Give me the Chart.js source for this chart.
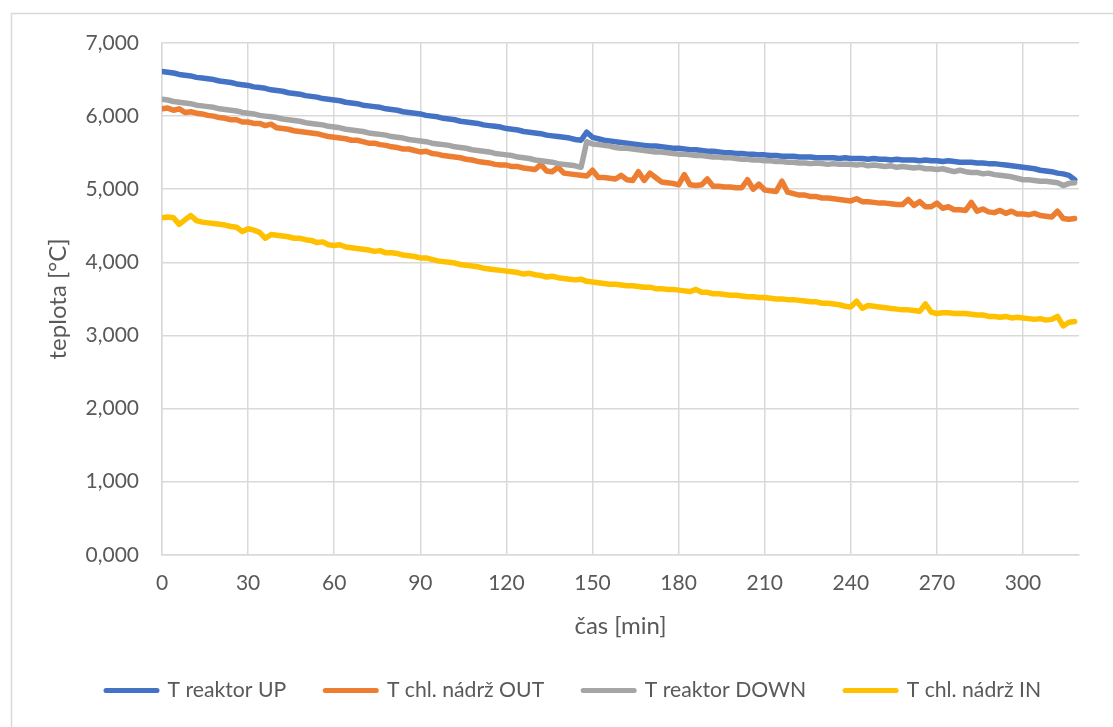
<!DOCTYPE html>
<html>
<head>
<meta charset="utf-8">
<script src="https://cdn.jsdelivr.net/npm/chart.js@4.4.1/dist/chart.umd.min.js"></script>
<style>
  html, body { margin: 0; padding: 0; background: #fff; overflow: hidden; }
  canvas { display: block; }
</style>
</head>
<body>
<canvas id="chart" width="1113" height="727"></canvas>
<script>
// Sampling times [min]
const timeMin = [
  0, 2, 4, 6, 8, 10, 12, 14, 16, 18,
  20, 22, 24, 26, 28, 30, 32, 34, 36, 38,
  40, 42, 44, 46, 48, 50, 52, 54, 56, 58,
  60, 62, 64, 66, 68, 70, 72, 74, 76, 78,
  80, 82, 84, 86, 88, 90, 92, 94, 96, 98,
  100, 102, 104, 106, 108, 110, 112, 114, 116, 118,
  120, 122, 124, 126, 128, 130, 132, 134, 136, 138,
  140, 142, 144, 146, 148, 150, 152, 154, 156, 158,
  160, 162, 164, 166, 168, 170, 172, 174, 176, 178,
  180, 182, 184, 186, 188, 190, 192, 194, 196, 198,
  200, 202, 204, 206, 208, 210, 212, 214, 216, 218,
  220, 222, 224, 226, 228, 230, 232, 234, 236, 238,
  240, 242, 244, 246, 248, 250, 252, 254, 256, 258,
  260, 262, 264, 266, 268, 270, 272, 274, 276, 278,
  280, 282, 284, 286, 288, 290, 292, 294, 296, 298,
  300, 302, 304, 306, 308, 310, 312, 314, 316, 318
];

// T reaktor UP
const tReaktorUp = [
  6.61, 6.60, 6.59, 6.57, 6.56, 6.55, 6.53, 6.52, 6.51, 6.50,
  6.48, 6.47, 6.46, 6.44, 6.43, 6.42, 6.40, 6.39, 6.38, 6.36,
  6.35, 6.34, 6.32, 6.31, 6.30, 6.28, 6.27, 6.26, 6.24, 6.23,
  6.22, 6.21, 6.19, 6.18, 6.17, 6.15, 6.14, 6.13, 6.12, 6.10,
  6.09, 6.08, 6.06, 6.05, 6.04, 6.03, 6.01, 6.00, 5.99, 5.97,
  5.96, 5.95, 5.93, 5.92, 5.91, 5.90, 5.88, 5.87, 5.86, 5.85,
  5.83, 5.82, 5.81, 5.79, 5.78, 5.77, 5.76, 5.74, 5.73, 5.72,
  5.71, 5.70, 5.68, 5.67, 5.78, 5.71, 5.69, 5.67, 5.66, 5.65,
  5.64, 5.63, 5.62, 5.61, 5.60, 5.59, 5.59, 5.58, 5.57, 5.56,
  5.56, 5.55, 5.54, 5.54, 5.53, 5.52, 5.52, 5.51, 5.50, 5.50,
  5.49, 5.49, 5.48, 5.48, 5.47, 5.47, 5.46, 5.46, 5.45, 5.45,
  5.45, 5.44, 5.44, 5.44, 5.43, 5.43, 5.43, 5.43, 5.42, 5.43,
  5.42, 5.42, 5.42, 5.41, 5.42, 5.41, 5.41, 5.40, 5.41, 5.40,
  5.40, 5.40, 5.39, 5.40, 5.39, 5.39, 5.38, 5.39, 5.38, 5.37,
  5.37, 5.37, 5.36, 5.36, 5.35, 5.35, 5.34, 5.33, 5.32, 5.31,
  5.30, 5.29, 5.28, 5.26, 5.25, 5.24, 5.22, 5.21, 5.19, 5.13
];

// T chl. nádrž OUT
const tNadrzOut = [
  6.10, 6.11, 6.08, 6.10, 6.05, 6.06, 6.04, 6.03, 6.01, 6.00,
  5.98, 5.97, 5.95, 5.95, 5.92, 5.92, 5.90, 5.90, 5.87, 5.89,
  5.84, 5.83, 5.82, 5.80, 5.79, 5.78, 5.77, 5.76, 5.74, 5.72,
  5.71, 5.70, 5.69, 5.67, 5.67, 5.65, 5.63, 5.63, 5.61, 5.60,
  5.58, 5.57, 5.55, 5.55, 5.53, 5.51, 5.52, 5.49, 5.48, 5.46,
  5.45, 5.44, 5.43, 5.41, 5.40, 5.38, 5.37, 5.36, 5.34, 5.33,
  5.33, 5.31, 5.31, 5.29, 5.28, 5.27, 5.34, 5.25, 5.24, 5.30,
  5.22, 5.21, 5.20, 5.19, 5.18, 5.26, 5.16, 5.16, 5.15, 5.14,
  5.19, 5.13, 5.12, 5.24, 5.12, 5.22, 5.16, 5.10, 5.09, 5.08,
  5.06, 5.20, 5.06, 5.05, 5.06, 5.14, 5.04, 5.04, 5.03, 5.03,
  5.02, 5.02, 5.13, 5.00, 5.07, 4.99, 4.98, 4.97, 5.11, 4.96,
  4.94, 4.92, 4.92, 4.90, 4.90, 4.88, 4.88, 4.87, 4.86, 4.85,
  4.84, 4.87, 4.83, 4.83, 4.82, 4.81, 4.81, 4.80, 4.79, 4.79,
  4.86, 4.78, 4.83, 4.76, 4.76, 4.81, 4.74, 4.76, 4.72, 4.72,
  4.71, 4.82, 4.70, 4.73, 4.69, 4.68, 4.71, 4.67, 4.70, 4.66,
  4.66, 4.65, 4.67, 4.64, 4.63, 4.62, 4.70, 4.60, 4.59, 4.60
];

// T reaktor DOWN
const tReaktorDown = [
  6.23, 6.22, 6.20, 6.19, 6.18, 6.17, 6.15, 6.14, 6.13, 6.12,
  6.10, 6.09, 6.08, 6.07, 6.05, 6.04, 6.03, 6.01, 6.00, 5.99,
  5.98, 5.96, 5.95, 5.94, 5.93, 5.91, 5.90, 5.89, 5.88, 5.86,
  5.85, 5.84, 5.82, 5.81, 5.80, 5.79, 5.77, 5.76, 5.75, 5.74,
  5.72, 5.71, 5.70, 5.68, 5.67, 5.66, 5.65, 5.63, 5.62, 5.61,
  5.60, 5.58, 5.57, 5.56, 5.54, 5.53, 5.52, 5.51, 5.49, 5.48,
  5.47, 5.46, 5.44, 5.43, 5.42, 5.40, 5.39, 5.38, 5.37, 5.35,
  5.34, 5.33, 5.32, 5.30, 5.65, 5.62, 5.61, 5.60, 5.59, 5.57,
  5.56, 5.56, 5.55, 5.54, 5.53, 5.52, 5.51, 5.51, 5.50, 5.49,
  5.48, 5.48, 5.47, 5.46, 5.46, 5.45, 5.44, 5.44, 5.43, 5.43,
  5.42, 5.41, 5.41, 5.40, 5.40, 5.39, 5.39, 5.38, 5.38, 5.37,
  5.37, 5.36, 5.36, 5.35, 5.36, 5.35, 5.34, 5.35, 5.34, 5.34,
  5.34, 5.33, 5.34, 5.32, 5.33, 5.32, 5.31, 5.32, 5.30, 5.31,
  5.30, 5.29, 5.30, 5.28, 5.28, 5.27, 5.28, 5.26, 5.24, 5.26,
  5.24, 5.23, 5.23, 5.21, 5.22, 5.20, 5.19, 5.18, 5.17, 5.15,
  5.13, 5.13, 5.12, 5.11, 5.11, 5.10, 5.09, 5.05, 5.08, 5.09
];

// T chl. nádrž IN
const tNadrzIn = [
  4.61, 4.62, 4.61, 4.52, 4.58, 4.64, 4.57, 4.55, 4.54, 4.53,
  4.52, 4.51, 4.49, 4.48, 4.42, 4.46, 4.44, 4.41, 4.33, 4.38,
  4.37, 4.36, 4.35, 4.33, 4.33, 4.31, 4.30, 4.27, 4.28, 4.24,
  4.23, 4.24, 4.21, 4.20, 4.19, 4.18, 4.17, 4.15, 4.16, 4.13,
  4.13, 4.12, 4.10, 4.09, 4.08, 4.06, 4.06, 4.04, 4.02, 4.01,
  4.00, 3.99, 3.97, 3.96, 3.95, 3.94, 3.92, 3.91, 3.90, 3.89,
  3.88, 3.87, 3.86, 3.84, 3.85, 3.83, 3.82, 3.80, 3.81, 3.79,
  3.78, 3.77, 3.76, 3.77, 3.74, 3.73, 3.72, 3.71, 3.70, 3.70,
  3.69, 3.68, 3.68, 3.67, 3.66, 3.66, 3.64, 3.64, 3.63, 3.63,
  3.62, 3.61, 3.60, 3.63, 3.59, 3.59, 3.57, 3.57, 3.56, 3.55,
  3.55, 3.54, 3.53, 3.53, 3.52, 3.52, 3.51, 3.50, 3.50, 3.49,
  3.49, 3.48, 3.47, 3.46, 3.46, 3.44, 3.44, 3.43, 3.42, 3.40,
  3.39, 3.47, 3.37, 3.41, 3.40, 3.39, 3.38, 3.37, 3.36, 3.35,
  3.35, 3.34, 3.33, 3.43, 3.32, 3.30, 3.31, 3.31, 3.30, 3.30,
  3.30, 3.29, 3.28, 3.28, 3.26, 3.26, 3.25, 3.26, 3.24, 3.25,
  3.24, 3.23, 3.22, 3.23, 3.21, 3.22, 3.26, 3.13, 3.18, 3.19
];

const seriesNames = ['T reaktor UP', 'T chl. nádrž OUT', 'T reaktor DOWN', 'T chl. nádrž IN'];
const seriesColors = ['#4472C4', '#ED7D31', '#A5A5A5', '#FFC000'];
const seriesValues = [tReaktorUp, tNadrzOut, tReaktorDown, tNadrzIn];

const xTicks = [0, 30, 60, 90, 120, 150, 180, 210, 240, 270, 300];
const yTicks = [0, 1, 2, 3, 4, 5, 6, 7];

const gridColor = '#d9d9d9';
const textColor = '#595959';
const fontFamily = 'Lato, Carlito, "Liberation Sans", sans-serif';
const tickFont = { family: fontFamily, size: 21 };
const legendFont = { family: fontFamily, size: 21.2 };
const titleFont = { family: fontFamily, size: 24 };

// Light outer frame around the whole chart
const chartFrame = {
  id: 'chartFrame',
  beforeDraw(chart) {
    const c = chart.ctx;
    c.save();
    c.fillStyle = '#ffffff';
    c.fillRect(0, 0, chart.width, chart.height);
    c.strokeStyle = gridColor;
    c.lineWidth = 1.5;
    c.strokeRect(11.5, 13.5, 1400, 1000);
    c.restore();
  }
};

// Moves the legend row sideways so it sits under the plot
const legendShift = {
  id: 'legendShift',
  afterLayout(chart) {
    const lg = chart.legend;
    if (!lg) return;
    const dx = 67;
    lg.left += dx;
    lg.right += dx;
  }
};

const datasets = seriesValues.map((vals, i) => ({
  label: seriesNames[i],
  data: timeMin.map((t, k) => ({ x: t, y: vals[k] })),
  borderColor: seriesColors[i],
  backgroundColor: seriesColors[i],
  borderWidth: 5.5,
  borderCapStyle: 'round',
  borderJoinStyle: 'round',
  pointRadius: 0,
  pointHoverRadius: 0,
  tension: 0,
  order: seriesValues.length - i
}));

new Chart(document.getElementById('chart').getContext('2d'), {
  type: 'line',
  data: { datasets },
  options: {
    responsive: false,
    animation: false,
    devicePixelRatio: 1,
    layout: { padding: { left: 0, right: 34, top: 43, bottom: 16 } },
    plugins: {
      legend: {
        position: 'bottom',
        align: 'start',
        labels: {
          usePointStyle: true,
          pointStyle: 'line',
          pointStyleWidth: 51,
          padding: 39,
          color: textColor,
          font: legendFont,
          sort: (a, b) => a.datasetIndex - b.datasetIndex,
          generateLabels: (chart) =>
            Chart.defaults.plugins.legend.labels.generateLabels(chart).map(l => ({
              ...l, lineCap: 'round', lineWidth: 5,
              strokeStyle: seriesColors[l.datasetIndex]
            }))
        }
      },
      tooltip: { enabled: false }
    },
    scales: {
      x: {
        type: 'linear',
        min: 0,
        max: 319.5,
        afterBuildTicks: (s) => { s.ticks = xTicks.map(v => ({ value: v })); },
        afterFit: (s) => { s.height = 86; },
        grid: { color: gridColor, lineWidth: 1.5, drawTicks: false },
        border: { color: gridColor, width: 1.5 },
        ticks: {
          color: textColor, font: tickFont, padding: 16,
          maxRotation: 0, autoSkip: false,
          callback: (v) => String(v)
        },
        title: {
          display: true, text: 'čas [min]', color: textColor, font: titleFont,
          padding: { top: 0, bottom: 0 }
        }
      },
      y: {
        type: 'linear',
        min: 0,
        max: 7,
        afterBuildTicks: (s) => { s.ticks = yTicks.map(v => ({ value: v })); },
        afterFit: (s) => { s.width = 162; },
        grid: { color: gridColor, lineWidth: 1.5, drawTicks: false },
        border: { color: gridColor, width: 1.5 },
        ticks: {
          color: textColor, font: tickFont, padding: 23,
          callback: (v) => v.toFixed(3).replace('.', ',')
        },
        title: {
          display: true, text: 'teplota [°C]', color: textColor, font: titleFont,
          padding: { top: 44, bottom: 0 }
        }
      }
    }
  },
  plugins: [chartFrame, legendShift]
});
</script>
</body>
</html>
